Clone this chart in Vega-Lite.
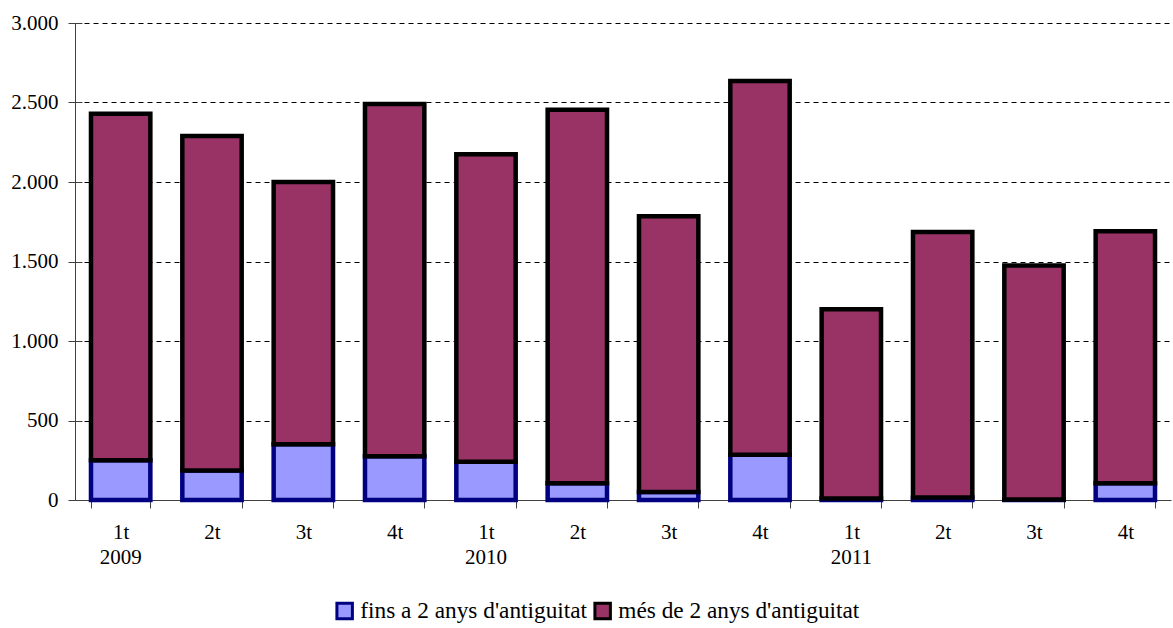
{
  "$schema": "https://vega.github.io/schema/vega-lite/v6.json",
  "autosize": "none",
  "width": 1096,
  "height": 477,
  "padding": {"left": 75, "top": 23, "right": 2, "bottom": 128},
  "background": "white",
  "data": {
    "values": [
      {"q": "1t|2009", "serie": "fins a 2 anys d'antiguitat", "v": 250},
      {"q": "2t|2009", "serie": "fins a 2 anys d'antiguitat", "v": 185},
      {"q": "3t|2009", "serie": "fins a 2 anys d'antiguitat", "v": 350},
      {"q": "4t|2009", "serie": "fins a 2 anys d'antiguitat", "v": 275},
      {"q": "1t|2010", "serie": "fins a 2 anys d'antiguitat", "v": 240},
      {"q": "2t|2010", "serie": "fins a 2 anys d'antiguitat", "v": 105},
      {"q": "3t|2010", "serie": "fins a 2 anys d'antiguitat", "v": 50},
      {"q": "4t|2010", "serie": "fins a 2 anys d'antiguitat", "v": 285},
      {"q": "1t|2011", "serie": "fins a 2 anys d'antiguitat", "v": 10},
      {"q": "2t|2011", "serie": "fins a 2 anys d'antiguitat", "v": 15},
      {"q": "3t|2011", "serie": "fins a 2 anys d'antiguitat", "v": 3},
      {"q": "4t|2011", "serie": "fins a 2 anys d'antiguitat", "v": 105},
      {"q": "1t|2009", "serie": "més de 2 anys d'antiguitat", "v": 2180},
      {"q": "2t|2009", "serie": "més de 2 anys d'antiguitat", "v": 2105},
      {"q": "3t|2009", "serie": "més de 2 anys d'antiguitat", "v": 1650},
      {"q": "4t|2009", "serie": "més de 2 anys d'antiguitat", "v": 2215},
      {"q": "1t|2010", "serie": "més de 2 anys d'antiguitat", "v": 1935},
      {"q": "2t|2010", "serie": "més de 2 anys d'antiguitat", "v": 2350},
      {"q": "3t|2010", "serie": "més de 2 anys d'antiguitat", "v": 1735},
      {"q": "4t|2010", "serie": "més de 2 anys d'antiguitat", "v": 2350},
      {"q": "1t|2011", "serie": "més de 2 anys d'antiguitat", "v": 1190},
      {"q": "2t|2011", "serie": "més de 2 anys d'antiguitat", "v": 1670},
      {"q": "3t|2011", "serie": "més de 2 anys d'antiguitat", "v": 1472},
      {"q": "4t|2011", "serie": "més de 2 anys d'antiguitat", "v": 1585}
    ]
  },
  "layer": [
    {
      "mark": {"type": "bar", "strokeWidth": 4.5},
      "encoding": {
        "x": {
          "field": "q",
          "type": "nominal",
          "sort": null,
          "scale": {"paddingInner": 0.35, "paddingOuter": 0.175},
          "axis": {
            "title": null,
            "orient": "bottom",
            "labelAngle": 0,
            "bandPosition": 0,
            "ticks": true,
            "tickBand": "extent",
            "tickSize": 8,
            "tickColor": "#404040",
            "domainColor": "#404040",
            "labelPadding": 13,
            "labelBaseline": "top",
            "labelExpr": "isString(datum.value) ? split(datum.value,'|')[0] : ''"
          }
        },
        "y": {
          "field": "v",
          "type": "quantitative",
          "stack": "zero",
          "scale": {"domain": [0, 3000], "nice": false},
          "axis": {
            "title": null,
            "orient": "left",
            "values": [0, 500, 1000, 1500, 2000, 2500, 3000],
            "labelExpr": "replace(format(datum.value, ','), ',', '.')",
            "tickSize": 7,
            "tickColor": "#404040",
            "domainColor": "#404040",
            "labelPadding": 10,
            "grid": true,
            "gridColor": "#000000",
            "gridDash": [5, 4],
            "gridWidth": 1
          }
        },
        "order": {"field": "serie", "sort": "ascending"},
        "color": {
          "field": "serie",
          "type": "nominal",
          "scale": {"domain": ["fins a 2 anys d'antiguitat", "més de 2 anys d'antiguitat"], "range": ["#9999FF", "#993366"]},
          "title": null
        },
        "stroke": {
          "field": "serie",
          "type": "nominal",
          "scale": {"domain": ["fins a 2 anys d'antiguitat", "més de 2 anys d'antiguitat"], "range": ["#000080", "#000000"]},
          "title": null
        }
      }
    },
    {
      "mark": {"type": "bar", "opacity": 0},
      "encoding": {
        "x": {
          "field": "q",
          "type": "nominal",
          "sort": null,
          "scale": {"paddingInner": 0.35, "paddingOuter": 0.175},
          "axis": {
            "title": null,
            "orient": "bottom",
            "labelAngle": 0,
            "ticks": false,
            "domain": false,
            "grid": false,
            "labelPadding": 46,
            "labelBaseline": "top",
            "labelExpr": "isString(datum.value) && split(datum.value,'|')[0] == '1t' ? split(datum.value,'|')[1] : ''"
          }
        },
        "y": {
          "field": "v",
          "type": "quantitative",
          "stack": "zero",
          "scale": {"domain": [0, 3000], "nice": false},
          "axis": {
            "title": null,
            "orient": "left",
            "values": [0, 500, 1000, 1500, 2000, 2500, 3000],
            "labels": false,
            "domain": false,
            "grid": false,
            "tickSize": -7,
            "tickColor": "#404040"
          }
        }
      }
    }
  ],
  "resolve": {
    "scale": {"x": "independent", "y": "independent"},
    "axis": {"x": "independent", "y": "independent"}
  },
  "config": {
    "view": {"stroke": null},
    "font": "Liberation Serif",
    "axis": {"labelFont": "Liberation Serif", "labelFontSize": 21, "labelColor": "#000000", "domainWidth": 1, "tickWidth": 1},
    "legend": {
      "orient": "none",
      "legendX": 258,
      "legendY": 576,
      "direction": "horizontal",
      "symbolType": "square",
      "symbolSize": 240,
      "symbolStrokeWidth": 3,
      "symbolOpacity": 1,
      "labelFont": "Liberation Serif",
      "labelFontSize": 23.3,
      "labelColor": "#000000",
      "labelLimit": 0,
      "columnPadding": 0,
      "labelOffset": 4
    }
  }
}
